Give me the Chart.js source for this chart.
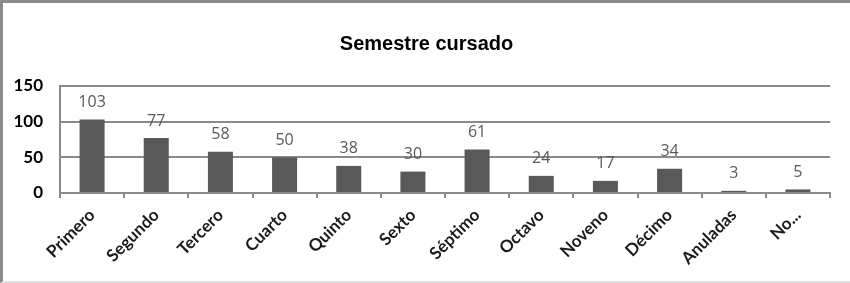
<!DOCTYPE html>
<html>
<head>
<meta charset="utf-8">
<script src="https://cdn.jsdelivr.net/npm/chart.js@4/dist/chart.umd.min.js"></script>
<style>
  html, body { margin: 0; padding: 0; background: #fff; }
  #frame {
    position: absolute; left: 0; top: 0;
    width: 850px; height: 283px; box-sizing: border-box;
    border-top: 3px solid #8a8a8a; border-left: 3px solid #8a8a8a;
    border-bottom: 2px solid #e2e2e2;
    background: #fff;
  }
  #wrap { position: relative; width: 847px; height: 278px; }
</style>
</head>
<body>
<div id="frame"><div id="wrap"><canvas id="c"></canvas></div></div>
<script>
const categories = ["Primero", "Segundo", "Tercero", "Cuarto", "Quinto", "Sexto", "Séptimo", "Octavo", "Noveno", "Décimo", "Anuladas", "No..."];
const values = [103, 77, 58, 50, 38, 30, 61, 24, 17, 34, 3, 5];
const yTicks = [0, 50, 100, 150];
const chartTitle = "Semestre cursado";

const valueLabels = {
  id: 'valueLabels',
  afterDatasetsDraw(chart) {
    const ctx = chart.ctx;
    const meta = chart.getDatasetMeta(0);
    ctx.save();
    ctx.fillStyle = '#595959';
    ctx.font = '16px "Open Sans", "DejaVu Sans", sans-serif';
    ctx.textAlign = 'center';
    ctx.textBaseline = 'bottom';
    meta.data.forEach((bar, i) => {
      ctx.fillText(String(values[i]), bar.x, bar.y - 9);
    });
    ctx.restore();
  }
};

new Chart(document.getElementById('c'), {
  type: 'bar',
  data: {
    labels: categories,
    datasets: [{
      data: values,
      backgroundColor: '#595959',
      borderWidth: 0,
      categoryPercentage: 1.0,
      barPercentage: 0.39
    }]
  },
  options: {
    responsive: true,
    maintainAspectRatio: false,
    animation: false,
    layout: { padding: { left: 0, right: 0, top: 0, bottom: 0 } },
    plugins: {
      legend: { display: false },
      tooltip: { enabled: false },
      title: {
        display: true,
        text: chartTitle,
        color: '#000',
        font: { family: '"Liberation Sans", Arial, sans-serif', size: 20, weight: 'bold' },
        padding: { top: 29, bottom: 30 }
      }
    },
    scales: {
      x: {
        offset: true,
        afterFit(scale) { scale.height = 88; },
        grid: { offset: true, drawOnChartArea: false, drawTicks: true, tickLength: 5, color: '#8a8a8a', lineWidth: 2 },
        border: { display: true, color: '#8a8a8a', width: 2 },
        ticks: {
          autoSkip: false, minRotation: 45, maxRotation: 45, padding: 7,
          color: '#1a1a1a',
          font: { family: 'Lato, "Open Sans", sans-serif', size: 17, weight: 'bold' }
        }
      },
      y: {
        min: 0, max: 150,
        afterBuildTicks(scale) { scale.ticks = yTicks.map(v => ({ value: v })); },
        afterFit(scale) { scale.width = 57; },
        grid: { color: '#8a8a8a', lineWidth: 2, drawTicks: false },
        border: { display: true, color: '#8a8a8a', width: 2 },
        ticks: {
          padding: 17, color: '#000',
          font: { family: 'Lato, "Open Sans", sans-serif', size: 17, weight: 'bold' }
        }
      },
      yRight: {
        position: 'right',
        min: 0, max: 150,
        afterFit(scale) { scale.width = 20; },
        grid: { display: false, drawOnChartArea: false },
        border: { display: false },
        ticks: { display: false }
      }
    }
  },
  plugins: [valueLabels]
});
</script>
</body>
</html>
